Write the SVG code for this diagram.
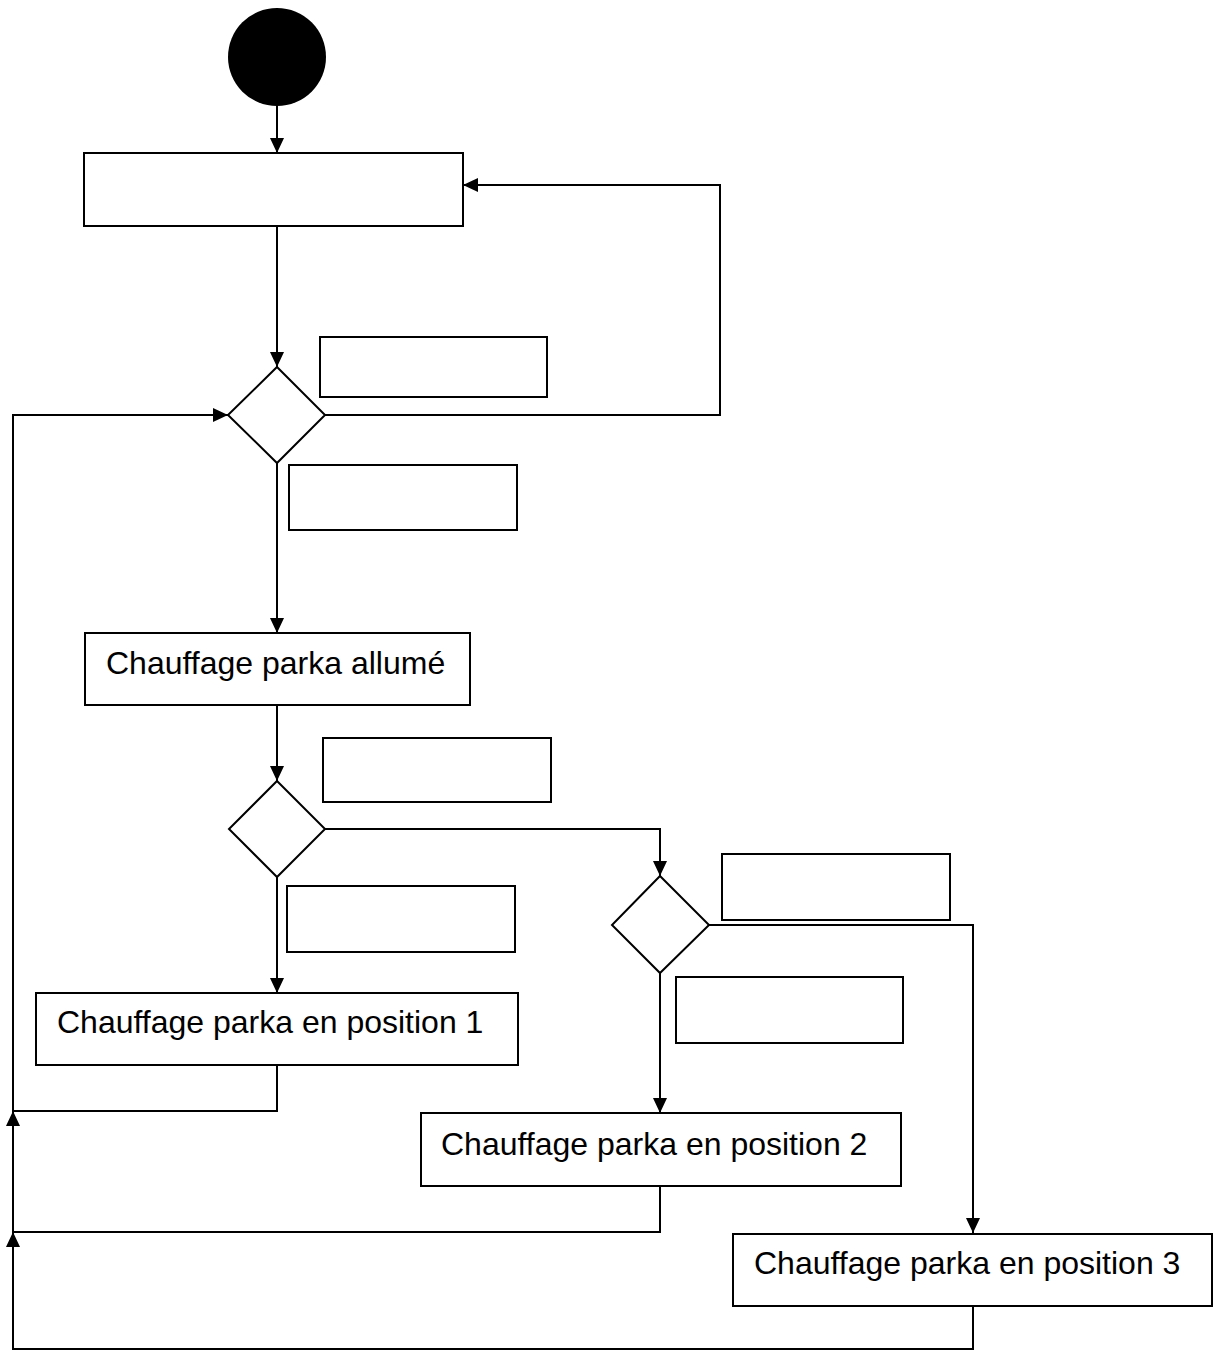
<svg xmlns="http://www.w3.org/2000/svg" width="1213" height="1351" viewBox="0 0 1213 1351">
<style>
.box{fill:#fff;stroke:#000;stroke-width:2}
.lbl{fill:#fff;stroke:#000;stroke-width:2}
.dia{fill:#fff;stroke:#000;stroke-width:2}
.con{fill:none;stroke:#000;stroke-width:2}
.t{font-family:"Liberation Sans",Arial,sans-serif;font-size:32px;fill:#000}
</style>
<defs>
<marker id="arr" markerUnits="userSpaceOnUse" markerWidth="16" markerHeight="14" refX="15" refY="7" orient="auto">
<path d="M0,0 L15,7 L0,14 z" fill="#000"/>
</marker>
</defs>
<rect width="1213" height="1351" fill="#fff"/>
<g id="connectors">
<path class="con" d="M277,106 V153" marker-end="url(#arr)"/>
<path class="con" d="M277,226 V367" marker-end="url(#arr)"/>
<path class="con" d="M325,415 H720 V185 H463" marker-end="url(#arr)"/>
<path class="con" d="M277,463 V633" marker-end="url(#arr)"/>
<path class="con" d="M277,705 V781" marker-end="url(#arr)"/>
<path class="con" d="M277,877 V993" marker-end="url(#arr)"/>
<path class="con" d="M325,829 H660 V876" marker-end="url(#arr)"/>
<path class="con" d="M660,973 V1113" marker-end="url(#arr)"/>
<path class="con" d="M709,925 H973 V1233" marker-end="url(#arr)"/>
<path class="con" d="M277,1065 V1111 H13 V415 H228" marker-end="url(#arr)"/>
<path class="con" d="M660,1186 V1232 H13 V1111" marker-end="url(#arr)"/>
<path class="con" d="M973,1306 V1349 H13 V1232" marker-end="url(#arr)"/>
</g>
<g id="start"><circle cx="277" cy="57" r="49" fill="#000"/></g>
<g id="box1"><rect class="box" x="84" y="153" width="379" height="73"/></g>
<g id="decision1"><polygon class="dia" points="277,367 325,415 277,463 228,415"/></g>
<g id="label1"><rect class="lbl" x="320" y="337" width="227" height="60"/></g>
<g id="label2"><rect class="lbl" x="289" y="465" width="228" height="65"/></g>
<g id="allume"><rect class="box" x="85" y="633" width="385" height="72"/><text class="t" x="106" y="674">Chauffage parka allumé</text></g>
<g id="decision2"><polygon class="dia" points="277,781 325,829 277,877 229,829"/></g>
<g id="label3"><rect class="lbl" x="323" y="738" width="228" height="64"/></g>
<g id="label4"><rect class="lbl" x="287" y="886" width="228" height="66"/></g>
<g id="pos1"><rect class="box" x="36" y="993" width="482" height="72"/><text class="t" x="57" y="1033">Chauffage parka en position 1</text></g>
<g id="decision3"><polygon class="dia" points="660,876 709,925 660,973 612,925"/></g>
<g id="label5"><rect class="lbl" x="722" y="854" width="228" height="66"/></g>
<g id="label6"><rect class="lbl" x="676" y="977" width="227" height="66"/></g>
<g id="pos2"><rect class="box" x="421" y="1113" width="480" height="73"/><text class="t" x="441" y="1155">Chauffage parka en position 2</text></g>
<g id="pos3"><rect class="box" x="733" y="1234" width="479" height="72"/><text class="t" x="754" y="1274">Chauffage parka en position 3</text></g>
</svg>
